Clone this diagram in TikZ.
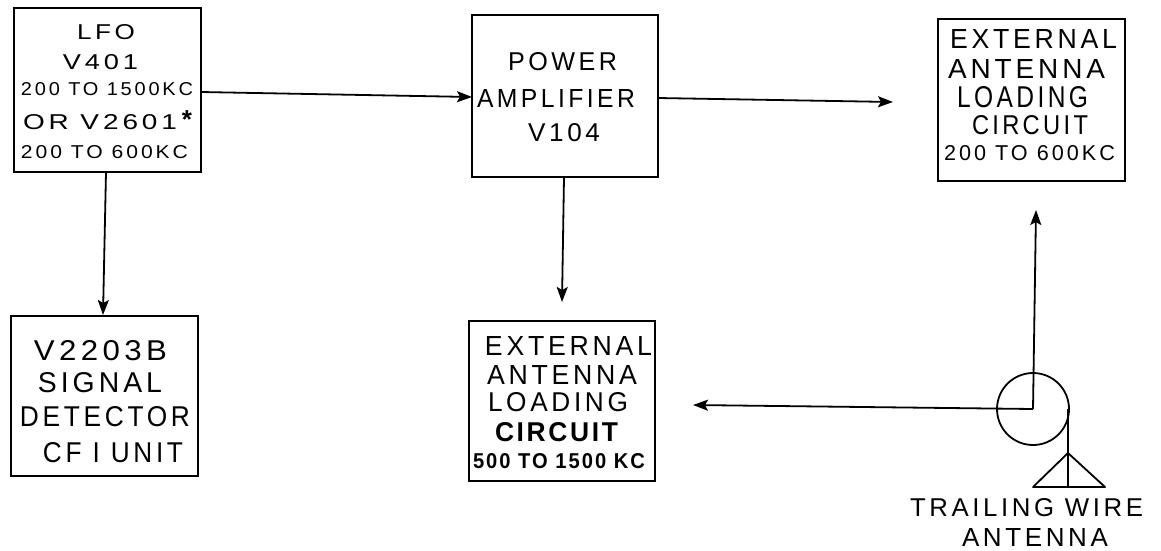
\documentclass[tikz,border=0pt]{standalone}
\usepackage{fontspec}
\usepackage{graphicx}
\setmainfont{Liberation Sans}
\usetikzlibrary{arrows.meta}
\tikzset{
 blockbox/.style={draw,line width=2pt,inner sep=0pt,align=center},
 txt/.style={inner sep=0pt,align=center},
 link/.style={line width=1.8pt,-{Stealth[length=15pt,width=11pt,inset=3pt]}},
 wire/.style={line width=1.8pt}
}
\newcommand{\lab}[3]{\resizebox{#1pt}{#2pt}{\fontsize{20}{20}\selectfont\addfontfeatures{LetterSpace=14}#3}}
\newcommand{\labb}[3]{\resizebox{#1pt}{#2pt}{\fontsize{20}{20}\selectfont\bfseries\addfontfeatures{LetterSpace=10}#3}}
\begin{document}
\begin{tikzpicture}[x=1pt,y=-1pt]
\useasboundingbox (0,0) rectangle (1161,550);
\node[blockbox,minimum width=187,minimum height=164] (lfo) at (107.5,90) {};
\node[txt] (l1) at (106,32) {\lab{58}{15}{LFO}};
\node[txt] (l2) at (100.5,62) {\lab{75}{15}{V401}};
\node[txt] (l3) at (107,89) {\lab{172}{13}{200 TO 1500KC}};
\node[txt] (l4) at (100,122) {\lab{154}{15}{OR V2601}};
\node[txt] (l4s) at (187,120) {\fontsize{26}{26}\selectfont\bfseries *};
\node[txt] (l5) at (104.5,152) {\lab{167}{13}{200 TO 600KC}};
\node[blockbox,minimum width=186,minimum height=162] (amp) at (565,96) {};
\node[txt] (a1) at (562.5,62) {\lab{109}{18}{POWER}};
\node[txt] (a2) at (556,98) {\lab{158}{18}{AMPLIFIER}};
\node[txt] (a3) at (564,133) {\lab{72}{18}{V104}};
\node[blockbox,minimum width=187,minimum height=162] (top) at (1031.5,100) {};
\node[txt] (t1) at (1033.5,39) {\lab{167}{19}{EXTERNAL}};
\node[txt] (t2) at (1026.5,69) {\lab{157}{19}{ANTENNA}};
\node[txt] (t3) at (1022.5,97) {\lab{131}{21}{LOADING}};
\node[txt] (t4) at (1030,125) {\lab{116}{19}{CIRCUIT}};
\node[txt] (t5) at (1029.5,153) {\lab{171}{15}{200 TO 600KC}};
\node[blockbox,minimum width=187,minimum height=160] (det) at (104.5,396) {};
\node[txt] (d1) at (100.5,351) {\lab{133}{20}{V2203B}};
\node[txt] (d2) at (100,383) {\lab{124}{20}{SIGNAL}};
\node[txt] (d3) at (105,417) {\lab{170}{20}{DETECTOR}};
\node[txt] (d4) at (113,453) {\lab{140}{20}{CF I UNIT}};
\node[blockbox,minimum width=186,minimum height=160] (bot) at (562,401) {};
\node[txt] (b1) at (568.5,346) {\lab{167}{19}{EXTERNAL}};
\node[txt] (b2) at (562,375) {\lab{150}{19}{ANTENNA}};
\node[txt] (b3) at (558,402) {\lab{140}{19}{LOADING}};
\node[txt] (b4) at (556.5,432) {\labb{123}{19}{CIRCUIT}};
\node[txt] (b5) at (559,461) {\labb{172}{15}{500 TO 1500 KC}};
\node[draw,circle,line width=1.8pt,minimum size=72,inner sep=0] (c) at (1033,409) {};
\coordinate (tee) at (1033,409);
\coordinate (topin) at (1036,210);
\coordinate (botin) at (693,405);
\coordinate (ampin) at (472,97);
\coordinate (lfoout) at (201,92);
\coordinate (ampout) at (658,98);
\coordinate (topl) at (893,102);
\coordinate (lfoin) at (106,172);
\coordinate (detin) at (103,315);
\coordinate (ampdn) at (564,177);
\coordinate (botdn) at (562,302);
\coordinate (tang) at (1068,409);
\coordinate (apex) at (1068,453);
\coordinate (tl) at (1033,487);
\coordinate (tr) at (1105,487);
\coordinate (tm) at (1068,487);
\draw[link] (lfoout) -- (ampin);
\draw[link] (ampout) -- (topl);
\draw[link] (lfoin) -- (detin);
\draw[link] (ampdn) -- (botdn);
\draw[link] (tee) -- (topin);
\draw[link] (tee) -- (botin);
\draw[wire] (tang) -- (tm);
\draw[wire,line join=round] (tl) -- (apex) -- (tr) -- cycle;
\node[txt] (w1) at (1026.5,508) {\lab{233}{18}{TRAILING WIRE}};
\node[txt] (w2) at (1035,537) {\lab{146}{18}{ANTENNA}};
\end{tikzpicture}
\end{document}
